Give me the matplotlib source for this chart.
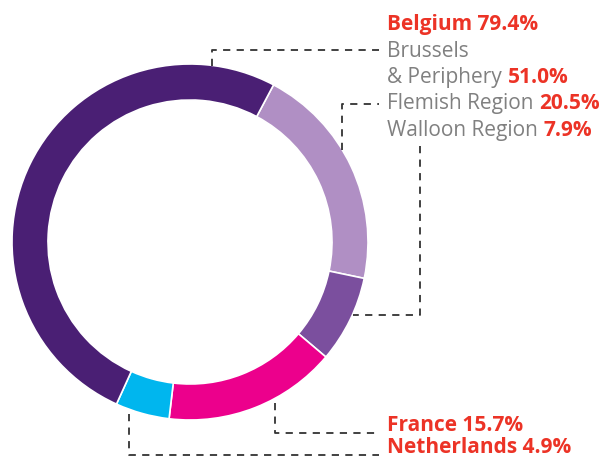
import matplotlib
matplotlib.use("Agg")
import matplotlib.pyplot as plt

# segments, clockwise from the top-right
LABELS = ["Flemish Region", "Walloon Region", "France", "Netherlands", "Brussels & Periphery"]
VALUES = [20.5, 7.9, 15.7, 4.9, 51.0]
COLORS = ["#B08FC4", "#7B4F9E", "#EC008C", "#00B6EE", "#4A1F74"]

RED = "#EC3326"
GREY = "#808080"
LINE = "#333333"
H = 459

plt.rcParams['font.family'] = ['Open Sans', 'DejaVu Sans']

fig = plt.figure(figsize=(6.13, 4.59), dpi=100)
ax = fig.add_axes([0, 0, 1, 1])
ax.set_xlim(0, 613)
ax.set_ylim(0, H)
ax.set_aspect("equal")
ax.axis("off")

ax.pie(VALUES, colors=COLORS, startangle=62, counterclock=False,
       center=(190, H - 242), radius=178,
       wedgeprops=dict(width=36, edgecolor="white", linewidth=1.2))
ax.set_xlim(0, 613)
ax.set_ylim(0, H)


def leader(xs, ys):
    ax.plot(xs, [H - y for y in ys], color=LINE, lw=1.3, ls=(0, (4, 3.5)))


leader([212, 212, 379], [66, 50, 50])
leader([342, 342, 379], [150, 104, 104])
leader([420, 420, 353], [146, 315, 315])
leader([275, 275, 379], [403, 433, 433])
leader([129, 129, 379], [414, 455, 455])

fig.canvas.draw()
renderer = fig.canvas.get_renderer()


def line(x, y, grey, red, size=15):
    x0 = x
    if grey:
        t = ax.text(x, H - y, grey, color=GREY, fontsize=size,
                    fontweight="normal", va="baseline", ha="left")
        x0 += t.get_window_extent(renderer).width + 6
    if red:
        ax.text(x0, H - y, red, color=RED, fontsize=size,
                fontweight="bold", va="baseline", ha="left")


line(387, 30, "", "Belgium 79.4%")
line(387, 57, "Brussels", "")
line(387, 83, "& Periphery", "51.0%")
line(387, 109, "Flemish Region", "20.5%")
line(387, 136, "Walloon Region", "7.9%")
line(387, 431, "", "France 15.7%")
line(387, 453, "", "Netherlands 4.9%")

fig.savefig("out.png", dpi=100)
